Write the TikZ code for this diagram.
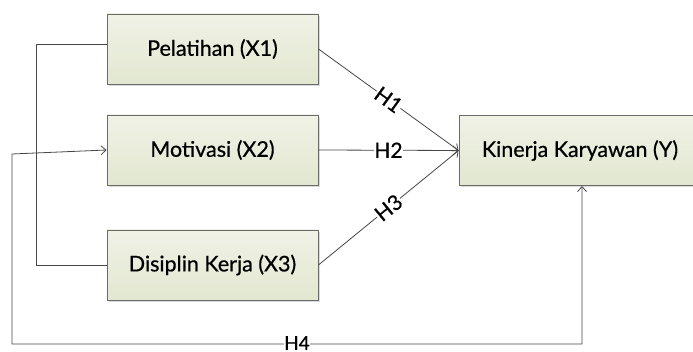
\documentclass[tikz,border=0pt]{standalone}
\usepackage{fontspec}
\setmainfont{Lato}[FakeBold=0.6]
\usetikzlibrary{arrows.meta,shadows}

\definecolor{boxtop}{HTML}{F0F2E6}
\definecolor{boxbot}{HTML}{E2E7D0}
\definecolor{boxline}{HTML}{6A6A6A}
\definecolor{wire}{HTML}{474747}

\tikzset{
  varbox/.style={draw=boxline, line width=0.9pt, top color=boxtop, bottom color=boxbot,
    minimum width=211pt, minimum height=70pt, inner sep=0pt,
    font=\fontsize{21.5}{24}\selectfont,
    drop shadow={shadow xshift=2pt, shadow yshift=-2pt, fill=black!14, opacity=1}},
  wireline/.style={draw=wire, line width=0.8pt},
  tip/.style={Straight Barb[length=5pt,width=9pt,line width=0.8pt]},
  arrowline/.style={wireline, -{Straight Barb[length=5pt,width=9pt,line width=0.8pt]}},
  hlabel/.style={fill=white, inner sep=0.5pt, font=\fontsize{21}{22}\selectfont, text=black}
}

\begin{document}
\begin{tikzpicture}[x=1pt, y=-1pt]
  \clip (0,0) rectangle (693,352);
  \fill[white] (0,0) rectangle (693,352);

  % independent variables
  \node[varbox] (pel) at (212.5,49) {Pelatihan (X1)};
  \node[varbox] (mot) at (212.5,150) {Motivasi (X2)};
  \node[varbox] (dis) at (212.5,265) {Disiplin Kerja (X3)};
  % dependent variable
  \node[varbox, minimum width=242pt] (kin) at (580,150.5) {Kinerja Karyawan (Y)};

  % bend points
  \coordinate (bl1) at (36,44);
  \coordinate (bl2) at (36,265);
  \coordinate (h4a) at (12,154);
  \coordinate (h4b) at (12,344);
  \coordinate (h4c) at (582,344);
  \coordinate (h4d) at (582,186);

  % bracket joining X1 and X3
  \draw[wireline] ([yshift=5pt]pel.west) -- (bl1) -- (bl2) -- (dis.west);

  % hypotheses H1--H3
  \draw[arrowline] (pel.east) -- node[hlabel, sloped] {H1} (kin.west);
  \draw[arrowline] (mot.east) -- node[hlabel] {H2} (kin.west);
  \draw[arrowline] (dis.east) -- node[hlabel, sloped] {H3} (kin.west);

  % simultaneous effect H4
  \draw[wireline, {Straight Barb[length=5pt,width=9pt,line width=0.8pt]}-{Straight Barb[length=5pt,width=9pt,line width=0.8pt]}]
    (mot.west) -- (h4a) -- (h4b) -- node[hlabel, pos=0.5, font=\fontsize{19}{20}\selectfont, yshift=1pt] {H4} (h4c) -- (h4d);
\end{tikzpicture}
\end{document}
